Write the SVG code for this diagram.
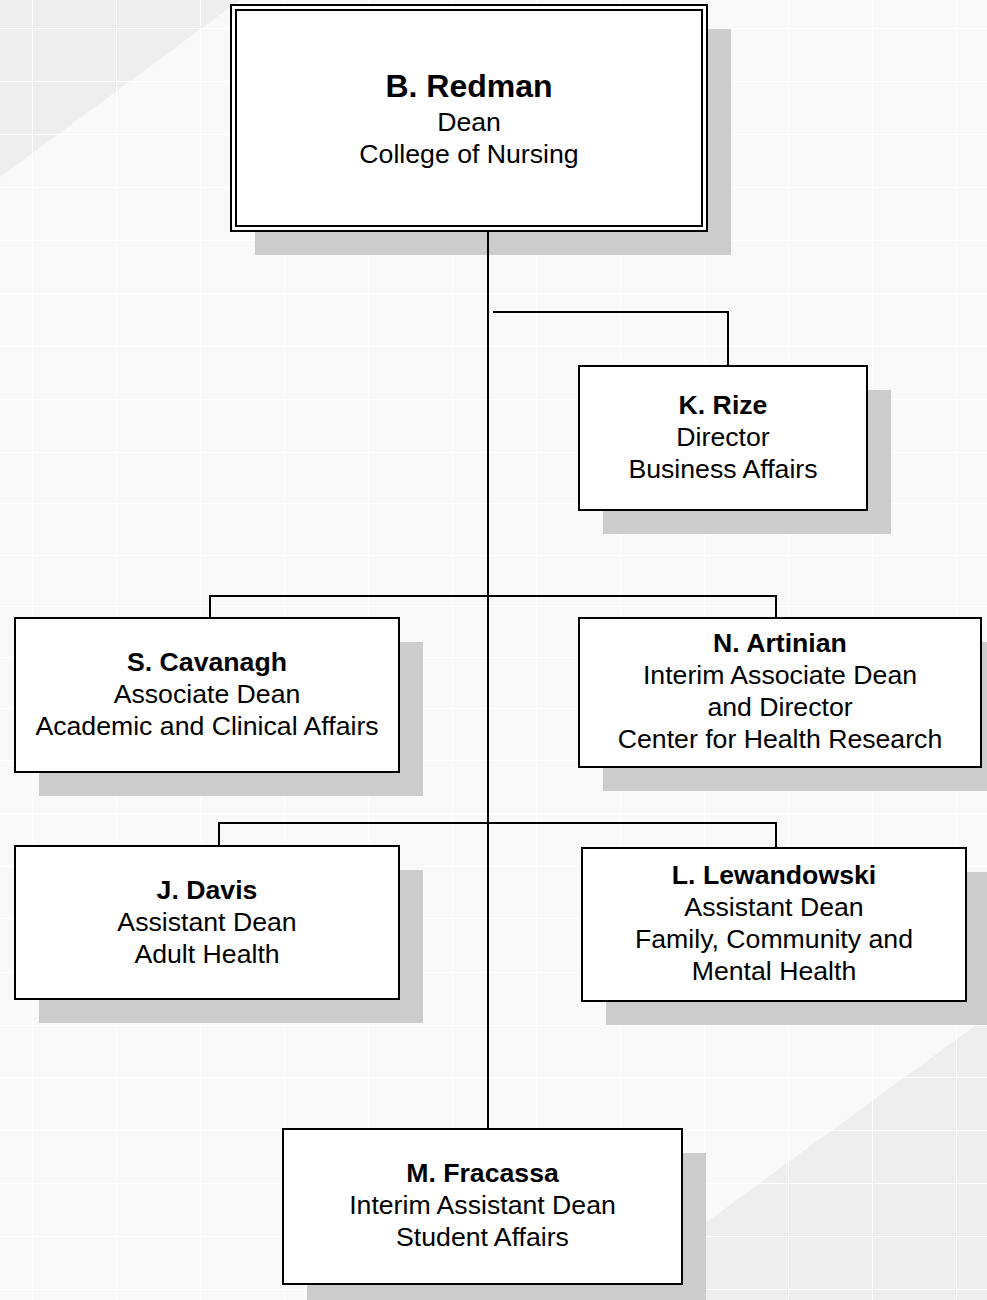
<svg xmlns="http://www.w3.org/2000/svg" width="987" height="1300" viewBox="0 0 987 1300">
<style>
.bg{fill:#f9f9f9}
.tri{fill:#eeeeee}
.grid{stroke:#ffffff;stroke-width:1;fill:none}
.shadow{fill:#cccccc}
.box{fill:#ffffff;stroke:#000000;stroke-width:2}
.conn{stroke:#000000;stroke-width:2;fill:none}
text{font-family:"Liberation Sans",Arial,sans-serif;font-size:26.67px;fill:#000000;text-anchor:middle}
.name{font-weight:bold}
.big{font-size:32px}
</style>
<rect class="bg" x="0" y="0" width="987" height="1300"/>
<polygon class="tri" points="0,0 240,0 0,177"/>
<polygon class="tri" points="987,1017 987,1300 600,1300"/>
<path class="grid" d="M0,28.5H987 M0,81.5H987 M0,134.5H987 M0,187.5H987 M0,240.5H987 M0,293.5H987 M0,346.5H987 M0,399.5H987 M0,452.5H987 M0,503.5H987 M0,555.5H987 M0,606.5H987 M0,657.5H987 M0,708.5H987 M0,760.5H987 M0,813.5H987 M0,866.5H987 M0,918.5H987 M0,972.5H987 M0,1025.5H987 M0,1077.5H987 M0,1130.5H987 M0,1183.5H987 M0,1236.5H987 M0,1289.5H987 M32.5,0V1300 M116.5,0V1300 M200.5,0V1300 M284.5,0V1300 M368.5,0V1300 M452.5,0V1300 M536.5,0V1300 M620.5,0V1300 M704.5,0V1300 M788.5,0V1300 M872.5,0V1300 M956.5,0V1300"/>

<g id="node-redman">
<rect class="shadow" x="255" y="29" width="476" height="226"/>
<rect class="box" x="231" y="5" width="476" height="226"/>
<rect class="box" x="236" y="10" width="466" height="216"/>
<text class="name big" x="469" y="97">B. Redman</text>
<text x="469" y="131">Dean</text>
<text x="469" y="163">College of Nursing</text>
</g>

<g id="node-rize">
<rect class="shadow" x="603" y="390" width="288" height="144"/>
<rect class="box" x="579" y="366" width="288" height="144"/>
<text class="name" x="723" y="414">K. Rize</text>
<text x="723" y="446">Director</text>
<text x="723" y="478">Business Affairs</text>
</g>

<g id="node-cavanagh">
<rect class="shadow" x="39" y="642" width="384" height="154"/>
<rect class="box" x="15" y="618" width="384" height="154"/>
<text class="name" x="207" y="671">S. Cavanagh</text>
<text x="207" y="703">Associate Dean</text>
<text x="207" y="735">Academic and Clinical Affairs</text>
</g>

<g id="node-artinian">
<rect class="shadow" x="603" y="642" width="402" height="149"/>
<rect class="box" x="579" y="618" width="402" height="149"/>
<text class="name" x="780" y="652">N. Artinian</text>
<text x="780" y="684">Interim Associate Dean</text>
<text x="780" y="716">and Director</text>
<text x="780" y="748">Center for Health Research</text>
</g>

<g id="node-davis">
<rect class="shadow" x="39" y="870" width="384" height="153"/>
<rect class="box" x="15" y="846" width="384" height="153"/>
<text class="name" x="207" y="899">J. Davis</text>
<text x="207" y="931">Assistant Dean</text>
<text x="207" y="963">Adult Health</text>
</g>

<g id="node-lewandowski">
<rect class="shadow" x="606" y="872" width="384" height="153"/>
<rect class="box" x="582" y="848" width="384" height="153"/>
<text class="name" x="774" y="884">L. Lewandowski</text>
<text x="774" y="916">Assistant Dean</text>
<text x="774" y="948">Family, Community and</text>
<text x="774" y="980">Mental Health</text>
</g>

<g id="node-fracassa">
<rect class="shadow" x="307" y="1153" width="399" height="155"/>
<rect class="box" x="283" y="1129" width="399" height="155"/>
<text class="name" x="482.5" y="1182">M. Fracassa</text>
<text x="482.5" y="1214">Interim Assistant Dean</text>
<text x="482.5" y="1246">Student Affairs</text>
</g>

<g id="connectors">
<path class="conn" d="M488,232V1129"/>
<path class="conn" d="M493,312H728V366"/>
<path class="conn" d="M210,618V596H776V618"/>
<path class="conn" d="M219,846V823H776V848"/>
</g>
</svg>
